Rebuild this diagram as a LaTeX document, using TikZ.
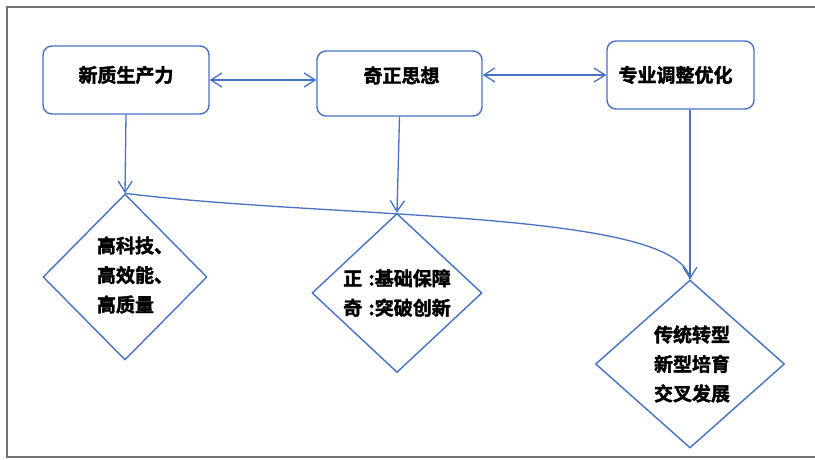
\documentclass[tikz,border=0pt]{standalone}
\usepackage{fontspec}
\setmainfont{Noto Sans CJK SC}
\newfontfamily\cjkheavy{Noto Sans CJK SC Bold}[FakeBold=2]
\usetikzlibrary{shapes.geometric,arrows.meta}
\definecolor{linkblue}{RGB}{71,114,196}
\definecolor{framegray}{RGB}{115,115,115}

\begin{document}
\begin{tikzpicture}[x=1pt, y=1pt,
    >={Straight Barb[length=11pt,width=14pt]},
    box/.style={draw=linkblue, line width=1.4pt, rounded corners=9pt},
    choice/.style={draw=linkblue, line width=1.4pt, shape=diamond, inner sep=0pt},
    cn/.style={font=\cjkheavy\fontsize{19}{29.5}\selectfont, align=left},
    link/.style={draw=linkblue, line width=1.3pt}]
    \useasboundingbox (0,0) rectangle (815,-459);

    % Outer frame
    \draw[framegray, line width=1.5pt] (7,-7) rectangle (825,-457);

    % Top boxes
    \node[box, minimum width=166pt, minimum height=68pt,
          label={[cn, anchor=center, yshift=5pt]center:新质生产力}] (prod) at (126,-80) {};
    \node[box, minimum width=165pt, minimum height=65pt,
          label={[cn, anchor=center, xshift=2pt, yshift=8pt]center:奇正思想}] (qizheng) at (399.5,-83.5) {};
    \node[box, minimum width=147pt, minimum height=68pt,
          label={[cn, anchor=center, xshift=-5pt]center:专业调整优化}] (major) at (680.5,-75) {};

    % Diamonds
    \node[choice, minimum width=164pt, minimum height=166pt,
          label={[cn, anchor=center, xshift=10pt, yshift=2pt]center:高科技、\\高效能、\\高质量}] (tech) at (125,-277) {};
    \node[choice, minimum width=170pt, minimum height=159pt,
          label={[cn, anchor=center]center:正\,\,:基础保障\\奇\,\,:突破创新}] (base) at (397,-293) {};
    \node[choice, minimum width=189pt, minimum height=168pt,
          label={[cn, anchor=center, xshift=2pt]center:传统转型\\新型培育\\交叉发展}] (cross) at (690,-364) {};

    % Links between boxes
    \draw[link, <->] (prod.east) -- (prod.east -| qizheng.west);
    \draw[link, <->] ([yshift=8.5pt]qizheng.east) -- ([yshift=8.5pt]qizheng.east -| major.west);

    % Down links
    \draw[link, ->] (prod.south) -- (tech.north);
    \draw[link, ->] (qizheng.south) -- (base.north);
    \draw[link, ->] (major.south -| cross.north) -- (cross.north);

    % Curve over the diamond tops
    \draw[link] (tech.north) .. controls +(205,-26) and +(-10,70) .. (cross.north);
\end{tikzpicture}
\end{document}
